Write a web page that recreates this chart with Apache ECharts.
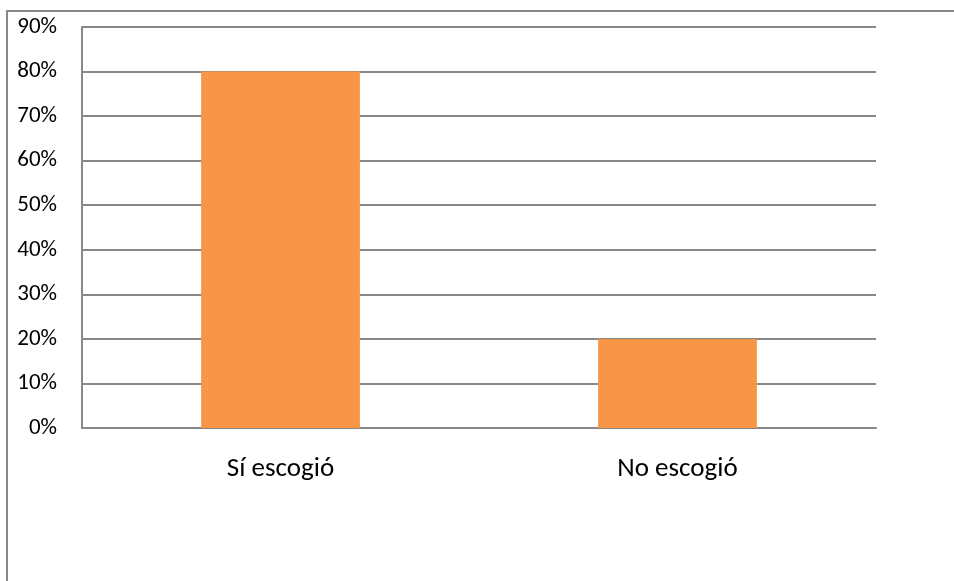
<!DOCTYPE html>
<html>
<head>
<meta charset="utf-8">
<script src="https://cdn.jsdelivr.net/npm/echarts@6/dist/echarts.min.js"></script>
<style>
  html, body { margin: 0; padding: 0; background: #fff; }
  #chart { width: 954px; height: 581px; }
</style>
</head>
<body>
<div id="chart"></div>
<script>
// Categories and shares (percent) of the two answers
const categories = ['Sí escogió', 'No escogió'];
const shares = [80, 20];
// Value axis range and step
const yMax = 90;
const yStep = 10;

const axisGray = '#888888';
const textFont = 'Carlito, Calibri, "Open Sans", "Noto Sans", sans-serif';

const chart = echarts.init(document.getElementById('chart'), null, { renderer: 'canvas' });
chart.setOption({
  animation: false,
  backgroundColor: '#ffffff',
  grid: { left: 82, top: 27, right: 78, bottom: 153, containLabel: false },
  graphic: [
    // chart frame: top and left edges
    { type: 'line', shape: { x1: 6, y1: 11, x2: 954, y2: 11 }, style: { stroke: axisGray, lineWidth: 2 } },
    { type: 'line', shape: { x1: 7, y1: 10, x2: 7, y2: 581 }, style: { stroke: axisGray, lineWidth: 2 } }
  ],
  xAxis: {
    type: 'category',
    data: categories,
    axisLine: { show: true, lineStyle: { color: axisGray, width: 2 } },
    axisTick: { show: false },
    axisLabel: { color: '#000', fontSize: 27, fontFamily: textFont, margin: 28 }
  },
  yAxis: {
    type: 'value',
    min: 0,
    max: yMax,
    interval: yStep,
    axisLine: { show: true, lineStyle: { color: axisGray, width: 2 } },
    axisTick: { show: false },
    splitLine: { show: true, lineStyle: { color: axisGray, width: 2 } },
    axisLabel: { color: '#000', fontSize: 23, fontFamily: textFont, margin: 25, formatter: '{value}%' }
  },
  series: [{
    type: 'bar',
    data: shares,
    barWidth: '40%',
    itemStyle: { color: '#F79646' }
  }]
});
</script>
</body>
</html>
